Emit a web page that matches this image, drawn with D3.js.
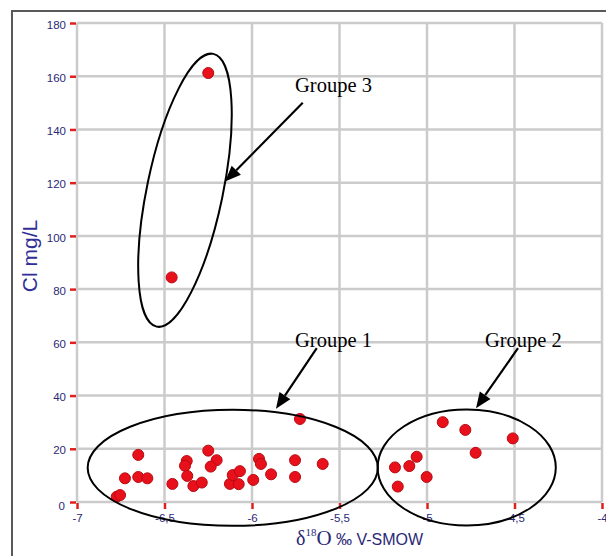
<!DOCTYPE html>
<html>
<head>
<meta charset="utf-8">
<script src="https://cdn.jsdelivr.net/npm/d3@7/dist/d3.min.js"></script>
<style>
  html, body { margin: 0; padding: 0; background: #ffffff; }
  svg { display: block; }
</style>
</head>
<body>
<svg id="chart" width="606" height="556"></svg>
<script>
// δ18O (‰ V-SMOW) and chloride (mg/L) for each group of samples
const group1O18 = [-5.726, -6.650, -6.250, -6.373, -6.383, -6.202, -6.236, -6.370, -6.726, -6.650,
                   -6.598, -6.455, -6.335, -6.287, -6.126, -6.076, -6.110, -6.069, -5.993, -5.960,
                   -5.949, -5.891, -5.754, -5.754, -5.596, -6.773, -6.754];
const group1Cl  = [31.2, 17.7, 19.3, 15.4, 13.6, 15.7, 13.3, 9.8, 8.9, 9.4,
                   8.9, 6.8, 6.0, 7.3, 6.8, 6.7, 10.1, 11.6, 8.3, 16.2,
                   14.3, 10.4, 15.7, 9.4, 14.3, 2.0, 2.6];
const group2O18 = [-4.910, -4.781, -4.510, -4.722, -5.059, -5.101, -5.183, -5.002, -5.167];
const group2Cl  = [30.0, 27.1, 23.9, 18.5, 17.0, 13.5, 13.0, 9.4, 5.8];
const group3O18 = [-6.250, -6.459];
const group3Cl  = [161.2, 84.4];

const xTicks = [-7, -6.5, -6, -5.5, -5, -4.5, -4];
const xTickLabels = ["-7", "-6,5", "-6", "-5,5", "-5", "-4,5", "-4"];
const yTicks = [0, 20, 40, 60, 80, 100, 120, 140, 160, 180];
const yTickLabels = ["0", "20", "40", "60", "80", "100", "120", "140", "160", "180"];

const groupNames = ["Groupe 1", "Groupe 2", "Groupe 3"];

const svg = d3.select("#chart");
const W = 606, H = 556;

const x = d3.scaleLinear().domain([-7, -4]).range([77, 602]);
const y = d3.scaleLinear().domain([0, 180]).range([502, 23]);

const navy = "#2b2876";

// outer frame (top and left edges inside the window)
svg.append("path")
  .attr("d", `M12,${H} L12,11 L${W},11`)
  .attr("fill", "none").attr("stroke", "#595959").attr("stroke-width", 2);

// grid
const grid = svg.append("g");
grid.selectAll("line.v").data(xTicks).join("line")
  .attr("x1", d => x(d)).attr("x2", d => x(d))
  .attr("y1", y(180)).attr("y2", y(0))
  .attr("stroke", "#cbcbcb").attr("stroke-width", 2.5);
grid.selectAll("line.h").data(yTicks).join("line")
  .attr("x1", x(-7)).attr("x2", x(-4))
  .attr("y1", d => y(d)).attr("y2", d => y(d))
  .attr("stroke", "#cbcbcb").attr("stroke-width", 2.5);

// y axis: red tick marks and navy labels
const yAxis = d3.axisLeft(y).tickValues(yTicks).tickSize(6).tickPadding(4)
  .tickFormat((d, i) => yTickLabels[i]);
const gy = svg.append("g").attr("transform", `translate(${x(-7) - 1},0)`).call(yAxis);
gy.select(".domain").remove();
gy.selectAll(".tick line").attr("stroke", "#e0201c").attr("stroke-width", 2.5);
gy.selectAll(".tick text").attr("fill", navy)
  .style("font-family", "Arial, 'Liberation Sans', sans-serif").style("font-size", "11.5px")
  .attr("dy", "0.45em");
gy.selectAll(".tick").filter(d => d === 0).select("text").attr("dy", "0.65em").attr("x", -11);

// x axis: red tick marks and navy labels
const xAxis = d3.axisBottom(x).tickValues(xTicks).tickSize(6).tickPadding(5)
  .tickFormat((d, i) => xTickLabels[i]);
const gx = svg.append("g").attr("transform", `translate(0,${y(0) + 1})`).call(xAxis);
gx.select(".domain").remove();
gx.selectAll(".tick line").attr("stroke", "#e0201c").attr("stroke-width", 2.5);
gx.selectAll(".tick text").attr("fill", navy)
  .style("font-family", "Arial, 'Liberation Sans', sans-serif").style("font-size", "11.5px");

// axis titles
svg.append("text")
  .attr("transform", `translate(37,256) rotate(-90)`)
  .attr("text-anchor", "middle")
  .attr("fill", "#2f2f96")
  .style("font-family", "Arial, 'Liberation Sans', sans-serif").style("font-size", "21px")
  .text("Cl mg/L");

const xt = svg.append("text")
  .attr("x", 296).attr("y", 545)
  .attr("fill", navy);
xt.append("tspan").style("font-family", "'Liberation Serif', 'Times New Roman', serif")
  .style("font-size", "20px").text("δ");
xt.append("tspan").style("font-family", "'Liberation Serif', 'Times New Roman', serif")
  .style("font-size", "11px").attr("dy", -9).text("18");
xt.append("tspan").style("font-family", "'Liberation Serif', 'Times New Roman', serif")
  .style("font-size", "21px").attr("dy", 9).text("O");
xt.append("tspan").style("font-family", "Arial, 'Liberation Sans', sans-serif")
  .style("font-size", "16px").text(" ‰ V-SMOW");

// samples
const samples = [];
group1O18.forEach((v, i) => samples.push({o: v, cl: group1Cl[i]}));
group2O18.forEach((v, i) => samples.push({o: v, cl: group2Cl[i]}));
group3O18.forEach((v, i) => samples.push({o: v, cl: group3Cl[i]}));

svg.append("g").selectAll("circle").data(samples).join("circle")
  .attr("cx", d => x(d.o)).attr("cy", d => y(d.cl)).attr("r", 5.5)
  .attr("fill", "#e8111b").attr("stroke", "#b80a10").attr("stroke-width", 1);

// group outlines, in data units
const ann = svg.append("g").attr("fill", "none").attr("stroke", "#000").attr("stroke-width", 2);
function axisEllipse(cx, cy, rx, ry) {
  ann.append("ellipse")
    .attr("cx", x(cx)).attr("cy", y(cy))
    .attr("rx", x(-7 + rx) - x(-7)).attr("ry", y(0) - y(ry));
}
axisEllipse(-6.110, 12.85, 0.829, 21.8);
axisEllipse(-4.773, 12.97, 0.509, 21.8);

// tilted outline of group 3, from the ends of its long axis
(function () {
  const p1 = [x(-6.221), y(168.4)], p2 = [x(-6.545), y(65.9)];
  const cx = (p1[0] + p2[0]) / 2, cy = (p1[1] + p2[1]) / 2;
  const a = Math.hypot(p1[0] - p2[0], p1[1] - p2[1]) / 2;
  const ang = Math.atan2(p1[0] - p2[0], p2[1] - p1[1]) * 180 / Math.PI;
  const b = x(-7 + 0.217) - x(-7);
  ann.append("ellipse")
    .attr("cx", 0).attr("cy", 0).attr("rx", b).attr("ry", a)
    .attr("transform", `translate(${cx},${cy}) rotate(${ang})`);
})();

// arrows from each label to its outline
function arrow(x0, y0, x1, y1) {
  const X0 = x(x0), Y0 = y(y0), X1 = x(x1), Y1 = y(y1);
  const ang = Math.atan2(Y1 - Y0, X1 - X0);
  const L = 16, w = 6.5;
  const bx = X1 - L * Math.cos(ang), by = Y1 - L * Math.sin(ang);
  svg.append("line").attr("x1", X0).attr("y1", Y0).attr("x2", bx).attr("y2", by)
    .attr("stroke", "#000").attr("stroke-width", 2.2);
  const px = -Math.sin(ang) * w, py = Math.cos(ang) * w;
  svg.append("path")
    .attr("d", `M${X1},${Y1} L${bx + px},${by + py} L${bx - px},${by - py} Z`)
    .attr("fill", "#000");
}
arrow(-5.710, 150.0, -6.154, 120.4);
arrow(-5.630, 57.8, -5.863, 35.0);
arrow(-4.480, 57.8, -4.720, 35.2);

// group labels
const labelPos = [[-5.754, 58.2], [-4.669, 58.2], [-5.754, 154.2]];
svg.append("g").selectAll("text").data(groupNames).join("text")
  .attr("x", (d, i) => x(labelPos[i][0])).attr("y", (d, i) => y(labelPos[i][1]))
  .attr("fill", "#000")
  .style("font-family", "'Liberation Serif', 'Times New Roman', serif").style("font-size", "20.5px")
  .text(d => d);
</script>
</body>
</html>
